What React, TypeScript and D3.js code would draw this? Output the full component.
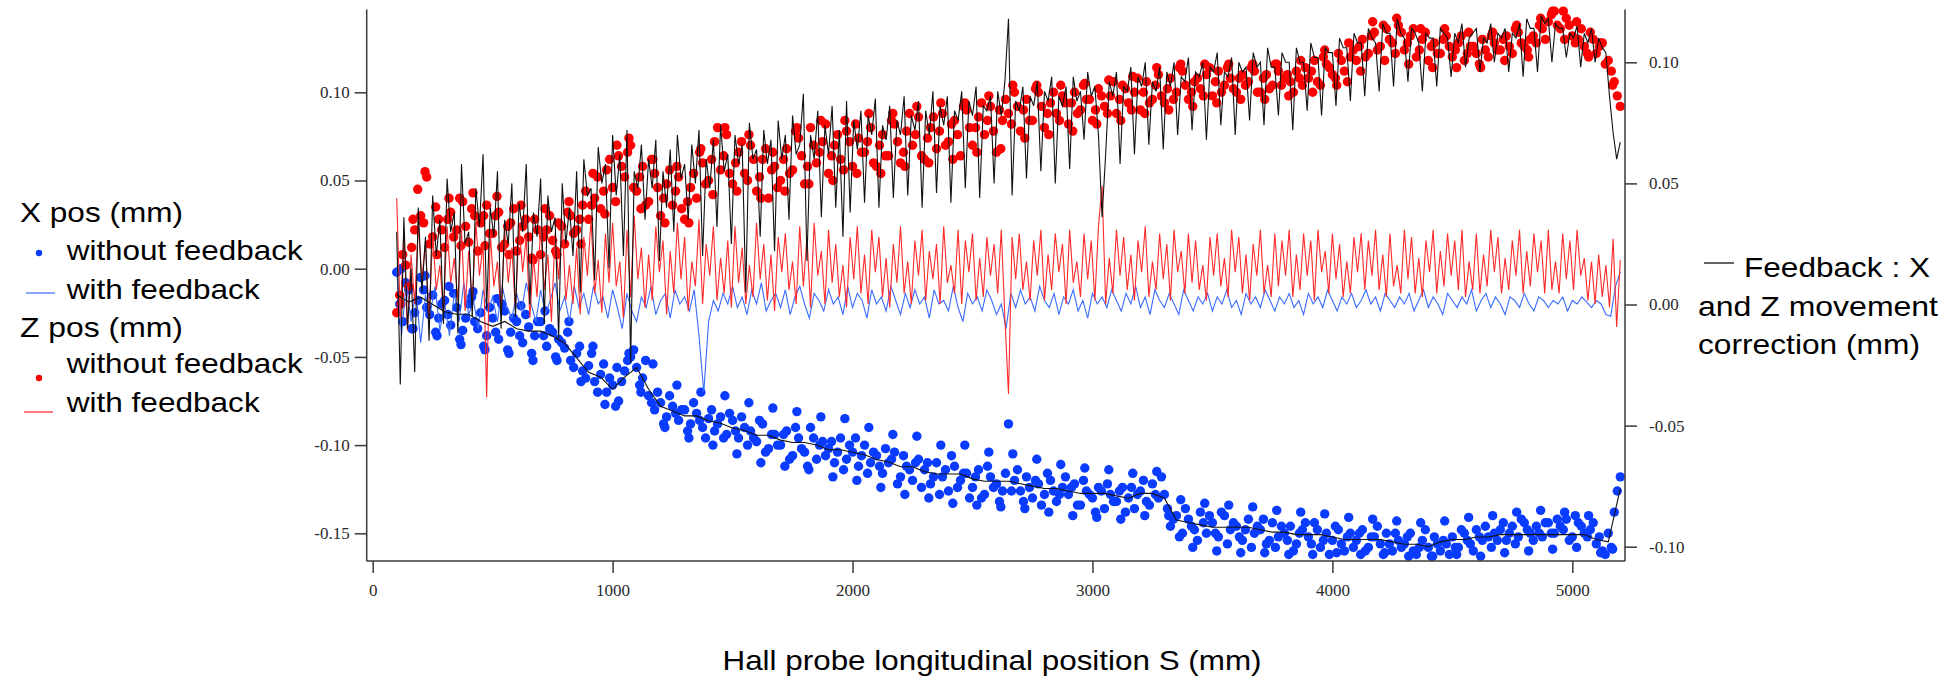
import React, { useEffect, useRef } from 'react';
import * as d3 from 'd3';

const W = 1957;
const H = 682;

// S grid starts (mm) and steps (mm) of each series
const S0 = 100;
const S0b = 112.5;
const S0c = 118;
const dotStep = 25;
const dotStepC = 50;
const xFbStep = 20;
const zFbStep = 15;
const fbXStep = 50;
const fbZStep = 15;

// X pos without feedback (µm), left axis — samples at S0 + 25 i
const xNoFbA = [
  -2,-30,-12,-25,-5,-22,-15,-28,
  -18,-32,-22,-35,-20,-30,-25,-38,
  -28,-40,-24,-36,-30,-42,-33,-38,
  -30,-44,-36,-40,-45,-52,-48,-58,
  -55,-64,-60,-70,-66,-75,-58,-50,
  -56,-62,-72,-80,-76,-84,-78,-86,
  -80,-88,-82,-90,-85,-92,-84,-94,
  -86,-96,-90,-92,-98,-88,-102,-94,
  -100,-92,-106,-96,-104,-90,-108,-98,
  -102,-110,-96,-108,-104,-112,-100,-110,
  -106,-116,-110,-104,-118,-112,-120,-108,
  -114,-122,-110,-118,-126,-112,-120,-116,
  -124,-114,-128,-118,-122,-126,-88,-120,
  -126,-118,-130,-122,-128,-120,-132,-124,
  -128,-122,-134,-126,-130,-124,-136,-128,
  -132,-124,-130,-136,-126,-132,-122,-130,
  -128,-146,-140,-150,-142,-148,-138,-150,
  -144,-152,-140,-148,-146,-154,-142,-150,
  -148,-156,-144,-152,-150,-146,-156,-148,
  -152,-144,-158,-150,-154,-148,-160,-150,
  -154,-148,-158,-152,-156,-150,-160,-154,
  -156,-150,-162,-154,-158,-152,-160,-156,
  -152,-158,-150,-156,-148,-154,-152,-150,
  -148,-154,-146,-152,-144,-150,-146,-152,
  -144,-150,-146,-142,-152,-144,-150,-148,
  -156,-160,-150,-138,-118,
];
// X pos without feedback (µm), left axis — samples at S0b + 25 i
const xNoFbB = [
  -20,-8,-34,-18,-12,-26,-36,-20,
  -26,-14,-40,-28,-16,-34,-44,-22,
  -36,-20,-46,-28,-38,-26,-48,-30,
  -38,-34,-50,-42,-36,-56,-44,-62,
  -48,-70,-54,-62,-78,-64,-52,-46,
  -66,-52,-76,-70,-88,-72,-82,-80,
  -92,-76,-86,-96,-80,-88,-96,-82,
  -92,-84,-100,-96,-86,-104,-94,-100,
  -94,-108,-90,-102,-112,-96,-100,-106,
  -98,-104,-114,-100,-96,-106,-116,-104,
  -112,-102,-108,-122,-106,-114,-110,-124,
  -110,-118,-128,-114,-106,-124,-116,-130,
  -118,-130,-112,-124,-132,-116,-126,-114,
  -132,-124,-120,-134,-116,-126,-128,-118,
  -124,-134,-120,-128,-138,-126,-122,-132,
  -126,-138,-124,-128,-120,-134,-128,-118,
  -136,-142,-152,-136,-146,-154,-144,-140,
  -150,-138,-156,-144,-152,-148,-158,-146,
  -142,-154,-158,-146,-154,-160,-150,-144,
  -156,-148,-154,-162,-146,-156,-152,-158,
  -150,-160,-152,-146,-162,-156,-150,-158,
  -152,-160,-158,-148,-163,-156,-154,-162,
  -158,-148,-154,-160,-152,-146,-158,-154,
  -144,-150,-156,-142,-148,-154,-150,-144,
  -150,-142,-148,-154,-140,-146,-152,-144,
  -152,-162,-158,-126,
];
// X pos without feedback (µm), left axis — outer scatter at S0c + 50 i
const xNoFbC = [
  0,-34,-4,-38,-10,-43,-13,-46,-17,-48,
  -21,-52,-24,-52,-30,-64,-44,-77,-56,-48,
  -70,-54,-90,-66,-96,-70,-100,-72,-105,-76,
  -110,-79,-112,-81,-114,-84,-118,-85,-120,-90,
  -124,-94,-128,-95,-130,-100,-133,-100,-134,-104,
  -135,-105,-136,-108,-138,-111,-140,-113,-141,-114,
  -142,-116,-140,-115,-140,-131,-158,-133,-160,-134,
  -161,-135,-161,-137,-162,-138,-162,-139,-161,-141,
  -162,-142,-161,-143,-163,-144,-163,-143,-162,-141,
  -163,-140,-161,-138,-160,-137,-159,-138,-158,-140,
  -161,-159,
];

// Z pos without feedback (µm), left axis — samples at S0 + 25 i
const zNoFbA = [
  -25,8,-10,22,30,52,18,28,
  12,32,22,38,15,30,26,36,
  20,32,14,26,10,24,18,28,
  8,22,16,26,14,30,22,36,
  28,40,34,56,46,64,52,70,
  44,58,38,54,30,48,36,52,
  28,46,40,60,50,72,56,76,
  48,66,54,70,44,62,40,58,
  50,68,56,74,48,80,60,72,
  54,70,62,78,58,74,66,80,
  58,76,64,82,60,78,70,86,
  62,80,68,88,72,84,64,90,
  70,86,76,92,66,84,88,100,
  78,96,84,100,80,94,88,98,
  82,100,90,96,84,102,92,98,
  88,104,94,100,90,106,96,110,
  94,108,100,112,96,106,102,110,
  98,112,104,108,100,110,106,112,
  100,110,104,112,108,106,112,104,
  108,118,104,116,110,122,112,120,
  118,130,122,134,126,136,128,138,
  124,132,120,130,118,128,122,132,
  120,128,118,126,122,130,120,128,
  124,132,122,134,126,130,128,136,
  140,146,136,142,132,130,126,134,
  122,128,118,106,92,
];
// Z pos without feedback (µm), left axis — samples at S0b + 25 i
const zNoFbB = [
  -15,2,12,45,26,14,35,22,
  28,18,40,24,34,10,30,20,
  30,12,24,34,16,28,6,22,
  18,30,10,24,32,20,28,44,
  36,52,44,62,38,58,66,46,
  52,36,62,46,40,56,44,34,
  38,54,66,48,62,80,64,54,
  60,72,50,62,52,68,56,46,
  62,54,78,64,58,70,66,82,
  64,76,56,72,82,66,72,60,
  70,64,84,72,66,88,76,64,
  74,86,78,70,82,76,92,80,
  80,94,84,78,90,96,82,92,
  90,84,102,92,88,100,84,94,
  94,88,104,96,90,98,88,106,
  96,102,90,108,100,94,104,98,
  102,96,114,104,100,108,98,114,
  106,100,114,102,108,104,114,100,
  108,102,116,104,110,100,108,114,
  112,106,120,114,108,118,106,124,
  126,120,132,124,138,130,122,134,
  128,136,124,134,126,122,130,126,
  124,132,122,126,116,124,132,124,
  130,126,136,128,124,132,138,130,
  144,138,146,138,128,136,122,130,
  126,116,112,98,
];
// Z pos without feedback (µm), left axis — outer scatter at S0c + 50 i
const zNoFbC = [
  -20,28,55,8,40,13,43,13,41,8,
  36,5,34,8,38,14,54,31,70,74,
  34,62,26,58,26,68,42,80,44,76,
  40,66,44,80,48,84,50,84,54,88,
  54,88,58,92,60,94,62,94,66,98,
  68,104,74,104,76,104,78,105,82,107,
  84,109,88,114,90,116,92,116,94,116,
  96,116,96,116,98,118,100,124,104,128,
  112,140,118,142,116,136,114,136,114,134,
  114,134,118,138,120,142,146,130,140,120,
  128,104,
];

// X pos with feedback (µm), left axis
const xFb = [
  0,-38,-8,-30,-12,-42,-15,-25,-10,-35,
  -20,-38,-14,-30,-8,-26,-18,-34,-12,-24,
  -16,-30,-10,-22,-28,-14,-24,-8,-20,-30,
  -12,-26,-18,-8,-24,-16,-30,-10,-22,-14,
  -26,-10,-20,-16,-28,-12,-22,-34,-14,-24,
  -30,-16,-22,-10,-26,-18,-14,-28,-12,-20,
  -16,-24,-12,-38,-70,-30,-18,-24,-14,-20,
  -10,-22,-16,-26,-12,-20,-8,-24,-18,-14,
  -22,-12,-26,-16,-10,-20,-28,-14,-18,-24,
  -12,-20,-16,-26,-10,-22,-14,-18,-28,-12,
  -20,-16,-24,-10,-18,-26,-14,-22,-12,-20,
  -16,-28,-12,-20,-18,-24,-10,-22,-30,-14,
  -20,-16,-24,-12,-18,-26,-20,-34,-14,-22,
  -12,-20,-16,-24,-10,-18,-22,-14,-26,-16,
  -20,-12,-24,-18,-28,-14,-20,-16,-22,-12,
  -18,-24,-14,-20,-10,-22,-16,-26,-12,-18,
  -22,-14,-20,-26,-12,-18,-24,-16,-20,-14,
  -24,-16,-20,-12,-22,-18,-26,-14,-20,-16,
  -22,-12,-18,-24,-16,-20,-14,-22,-18,-26,
  -14,-20,-16,-22,-12,-18,-24,-16,-20,-14,
  -22,-18,-12,-20,-16,-24,-14,-18,-22,-16,
  -20,-14,-24,-18,-12,-22,-16,-20,-26,-14,
  -18,-22,-16,-20,-12,-24,-18,-14,-22,-16,
  -20,-26,-16,-18,-22,-14,-20,-24,-16,-18,
  -22,-18,-20,-16,-24,-18,-20,-16,-19,-22,
  -18,-20,-26,-27,-10,-2,
];

// Z pos with feedback (µm), left axis
const zFb = [
  40,-28,22,-35,8,-20,25,-6,15,-30,
  20,-12,2,-25,24,-8,6,-18,22,-24,
  10,-20,26,-4,14,-73,20,-10,4,-26,
  22,-8,12,-24,25,-2,18,-28,6,-16,
  24,-12,8,-30,20,-6,26,-18,2,-20,
  12,-26,18,-4,28,-14,5,-25,20,-8,
  26,-10,4,-28,22,-16,30,-6,12,-22,
  8,-18,24,-2,16,-26,10,-14,26,-6,
  18,-24,4,-10,28,-20,14,-4,24,-18,
  6,-14,16,-22,24,-8,12,-20,2,-16,
  26,-6,14,-18,8,-24,18,-2,20,-12,
  4,-20,24,-10,18,-22,26,-4,10,-20,
  22,-8,14,-16,2,-22,18,-6,24,-14,
  8,-20,22,-2,18,-16,6,-22,14,-8,
  24,-14,4,-20,16,-4,22,-18,10,-6,
  14,-20,24,-8,2,-14,22,-20,16,-2,
  20,-18,6,-16,18,-4,14,-14,22,-28,
  -71,18,-6,20,-12,4,-18,16,-4,22,
  -18,8,-12,20,-2,14,-20,22,-8,4,
  -16,20,-6,16,-18,24,47,-20,6,-14,
  22,-4,18,-12,8,-18,16,-2,24,-16,
  4,-12,20,-6,14,-18,22,-2,10,-14,
  20,-8,16,-12,2,-18,18,-4,20,-10,
  6,-16,22,-2,18,-14,8,-18,14,-4,
  22,-14,2,-16,20,-10,16,-4,22,-16,
  8,-12,20,-4,16,-18,22,-2,10,-14,
  20,-6,14,-16,4,-14,18,-2,20,-12,
  16,-4,22,-12,8,-16,20,-10,2,-14,
  22,-6,18,-14,6,-16,16,-2,22,-14,
  10,-10,20,-4,16,-12,22,-16,4,-12,
  20,-14,8,-10,22,-2,18,-14,6,-12,
  16,-4,22,-14,10,-10,20,-2,16,-14,
  22,-12,4,-14,20,-6,16,-12,22,-4,
  6,-18,4,-20,8,-16,2,-22,17,-33,
  5,
];

// Feedback X correction (µm), right axis
const fbX = [
  4,1,3,0,-3,-4,-4,-7,-9,-7,
  -10,-11,-11,-13,-16,-22,-28,-30,-35,-30,
  -26,-35,-42,-44,-46,-46,-48,-49,-51,-52,
  -54,-54,-56,-57,-57,-58,-60,-60,-61,-62,
  -64,-65,-67,-67,-69,-70,-70,-70,-72,-73,
  -73,-73,-74,-75,-76,-76,-77,-78,-78,-78,
  -79,-80,-78,-78,-80,-89,-90,-91,-92,-92,
  -92,-92,-93,-94,-94,-95,-95,-95,-96,-97,
  -97,-97,-97,-98,-99,-99,-100,-98,-97,-97,
  -96,-96,-95,-95,-95,-95,-95,-95,-95,-95,
  -97,-98,-76,
];

// Feedback Z correction (µm), right axis
const fbZ = [
  30,-33,36,-10,15,-28,40,5,28,-15,
  45,20,35,-8,52,30,38,-12,58,25,
  30,-5,48,32,62,-2,40,28,55,-10,
  35,25,50,-5,42,30,58,0,38,28,
  52,-8,45,30,36,-14,50,25,40,20,
  55,5,60,45,48,10,65,50,58,15,
  70,45,62,20,72,-24,55,48,66,35,
  60,48,68,18,55,40,64,30,70,52,
  58,35,66,50,72,20,60,48,68,32,
  74,55,62,25,70,58,66,5,75,60,
  64,28,72,58,68,22,76,60,70,35,
  78,62,66,87,18,70,60,80,36,74,
  62,82,40,72,28,84,38,76,64,80,
  42,78,70,85,40,74,68,82,44,76,
  70,86,45,78,72,84,40,80,70,88,
  46,82,74,86,42,80,76,88,48,84,
  78,90,44,82,80,86,50,88,78,92,
  118,45,84,80,90,52,86,82,92,55,
  88,84,94,50,86,82,90,56,94,84,
  88,68,96,86,90,70,36,62,92,86,
  96,58,90,88,98,62,94,90,100,66,
  92,88,98,64,96,90,100,70,94,92,
  102,72,96,94,100,68,98,96,104,74,
  96,94,102,70,100,96,98,76,104,98,
  100,74,106,98,98,78,104,100,100,72,
  106,100,100,80,108,102,102,78,106,104,
  104,82,110,106,106,84,112,108,108,86,
  114,110,108,88,116,112,112,90,118,112,
  110,92,114,112,108,88,112,110,110,90,
  114,112,110,94,112,108,116,98,110,112,
  114,96,110,108,116,100,112,110,114,96,
  112,110,116,94,118,114,114,96,119,116,
  118,100,116,114,114,102,112,110,115,98,
  112,108,114,100,110,106,104,86,71,60,
  67,
];

// Axis ticks
const xTicks = [0, 1000, 2000, 3000, 4000, 5000];
const yLeftTicks = [0.10, 0.05, 0.0, -0.05, -0.10, -0.15];
const yRightTicks = [0.10, 0.05, 0.0, -0.05, -0.10];

const legendLeft = [
  { text: 'X pos (mm)', kind: 'title' },
  { text: 'without feedback', kind: 'dot', color: '#0a3cff' },
  { text: 'with feedback', kind: 'line', color: '#3a6bff' },
  { text: 'Z pos (mm)', kind: 'title' },
  { text: 'without feedback', kind: 'dot', color: '#ff0000' },
  { text: 'with feedback', kind: 'line', color: '#ff2222' },
];

type Pt = { s: number; v: number };

export default function App() {
  const ref = useRef<SVGSVGElement>(null);
  useEffect(() => {
    document.body.style.margin = '0';
    const svg = d3.select(ref.current);
    svg.selectAll('*').remove();

    const x = d3.scaleLinear().domain([0, 5000]).range([372.7, 1572.3]);
    const yL = d3.scaleLinear().domain([0.10, -0.15]).range([92.3, 533.3]);
    const yR = d3.scaleLinear().domain([0.10, -0.10]).range([62.3, 546.7]);
    const axisX0 = 366.7, axisX1 = 1625, axisY = 561, axisTop = 9.5;

    const toPts = (arr: number[], step: number, s0 = S0): Pt[] => arr.map((v, i) => ({ s: s0 + i * step, v: v / 1000 }));

    const plot = svg.append('g');
    const dotG = plot.append('g');
    const addDots = (pts: Pt[], color: string) => {
      dotG.append('g').selectAll('circle').data(pts).enter().append('circle')
        .attr('cx', d => x(d.s)).attr('cy', d => yL(d.v)).attr('r', 4.7).attr('fill', color);
    };
    addDots(toPts(xNoFbA, dotStep), '#0a3cff');
    addDots(toPts(xNoFbB, dotStep, S0b), '#0a3cff');
    addDots(toPts(xNoFbC, dotStepC, S0c), '#0a3cff');
    addDots(toPts(zNoFbA, dotStep), '#ff0000');
    addDots(toPts(zNoFbB, dotStep, S0b), '#ff0000');
    addDots(toPts(zNoFbC, dotStepC, S0c), '#ff0000');

    const lineL = d3.line<Pt>().x(d => x(d.s)).y(d => yL(d.v));
    const lineR = d3.line<Pt>().x(d => x(d.s)).y(d => yR(d.v));
    plot.append('path').attr('d', lineL(toPts(xFb, xFbStep))).attr('fill', 'none').attr('stroke', '#3a6bff').attr('stroke-width', 1.1);
    plot.append('path').attr('d', lineL(toPts(zFb, zFbStep))).attr('fill', 'none').attr('stroke', '#ff2a2a').attr('stroke-width', 1.1);
    plot.append('path').attr('d', lineR(toPts(fbX, fbXStep))).attr('fill', 'none').attr('stroke', '#111').attr('stroke-width', 1.1);
    plot.append('path').attr('d', lineR(toPts(fbZ, fbZStep))).attr('fill', 'none').attr('stroke', '#111').attr('stroke-width', 1.1);

    const axisColor = '#3a3a3a';
    svg.append('line').attr('x1', axisX0).attr('x2', axisX0).attr('y1', axisTop).attr('y2', axisY).attr('stroke', axisColor).attr('stroke-width', 1.5);
    svg.append('line').attr('x1', axisX1).attr('x2', axisX1).attr('y1', axisTop).attr('y2', axisY).attr('stroke', axisColor).attr('stroke-width', 1.5);
    svg.append('line').attr('x1', axisX0).attr('x2', axisX1).attr('y1', axisY).attr('y2', axisY).attr('stroke', axisColor).attr('stroke-width', 1.5);

    const tickFont = '"Liberation Serif", "Times New Roman", serif';
    const fmt = (d: number) => d.toFixed(2);

    const gL = svg.append('g').attr('transform', `translate(${axisX0},0)`)
      .call(d3.axisLeft(yL).tickValues(yLeftTicks).tickFormat(fmt as any).tickSize(12).tickPadding(5));
    const gR = svg.append('g').attr('transform', `translate(${axisX1},0)`)
      .call(d3.axisRight(yR).tickValues(yRightTicks).tickFormat(fmt as any).tickSize(12).tickPadding(12));
    const gX = svg.append('g').attr('transform', `translate(0,${axisY})`)
      .call(d3.axisBottom(x).tickValues(xTicks).tickFormat(d3.format('d') as any).tickSize(12).tickPadding(11));
    [gL, gR, gX].forEach(g => {
      g.select('.domain').remove();
      g.selectAll('line').attr('stroke', axisColor).attr('stroke-width', 1.5);
      g.selectAll('text').attr('font-family', tickFont).attr('font-size', 17).attr('fill', '#2a2a2a');
    });

    const legFont = '"Liberation Sans", Arial, sans-serif';
    svg.append('text').attr('x', 992).attr('y', 670).attr('text-anchor', 'middle')
      .attr('font-family', legFont).attr('font-size', 28).attr('fill', '#000')
      .attr('textLength', 539).attr('lengthAdjust', 'spacingAndGlyphs')
      .text('Hall probe longitudinal position S (mm)');

    const baselines = [222, 260, 299, 337, 373, 412];
    const widths = [163, 236, 193, 163, 236, 193];
    legendLeft.forEach((item, i) => {
      const by = baselines[i];
      const tx = item.kind === 'title' ? 20 : 66.7;
      svg.append('text').attr('x', tx).attr('y', by).attr('font-family', legFont).attr('font-size', 28)
        .attr('textLength', widths[i]).attr('lengthAdjust', 'spacingAndGlyphs').attr('fill', '#000').text(item.text);
      if (item.kind === 'dot') {
        svg.append('circle').attr('cx', 39).attr('cy', i === 1 ? 253 : 378).attr('r', 3.2).attr('fill', item.color!);
      } else if (item.kind === 'line') {
        const ly = i === 2 ? 293 : 412;
        const lx0 = i === 2 ? 26 : 24;
        svg.append('line').attr('x1', lx0).attr('x2', lx0 + 29).attr('y1', ly).attr('y2', ly).attr('stroke', item.color!).attr('stroke-width', 1.2);
      }
    });

    svg.append('line').attr('x1', 1704).attr('x2', 1734).attr('y1', 263).attr('y2', 263).attr('stroke', '#000').attr('stroke-width', 1.2);
    const rl = [
      { t: 'Feedback : X', x: 1744, y: 277, w: 186 },
      { t: 'and Z movement', x: 1698, y: 316, w: 240 },
      { t: 'correction (mm)', x: 1698, y: 354, w: 222 },
    ];
    rl.forEach(r => {
      svg.append('text').attr('x', r.x).attr('y', r.y).attr('font-family', legFont).attr('font-size', 28)
        .attr('textLength', r.w).attr('lengthAdjust', 'spacingAndGlyphs').attr('fill', '#000').text(r.t);
    });
  }, []);
  return <svg ref={ref} width={W} height={H} style={{ position: 'absolute', left: 0, top: 0, background: '#fff' }} />;
}
